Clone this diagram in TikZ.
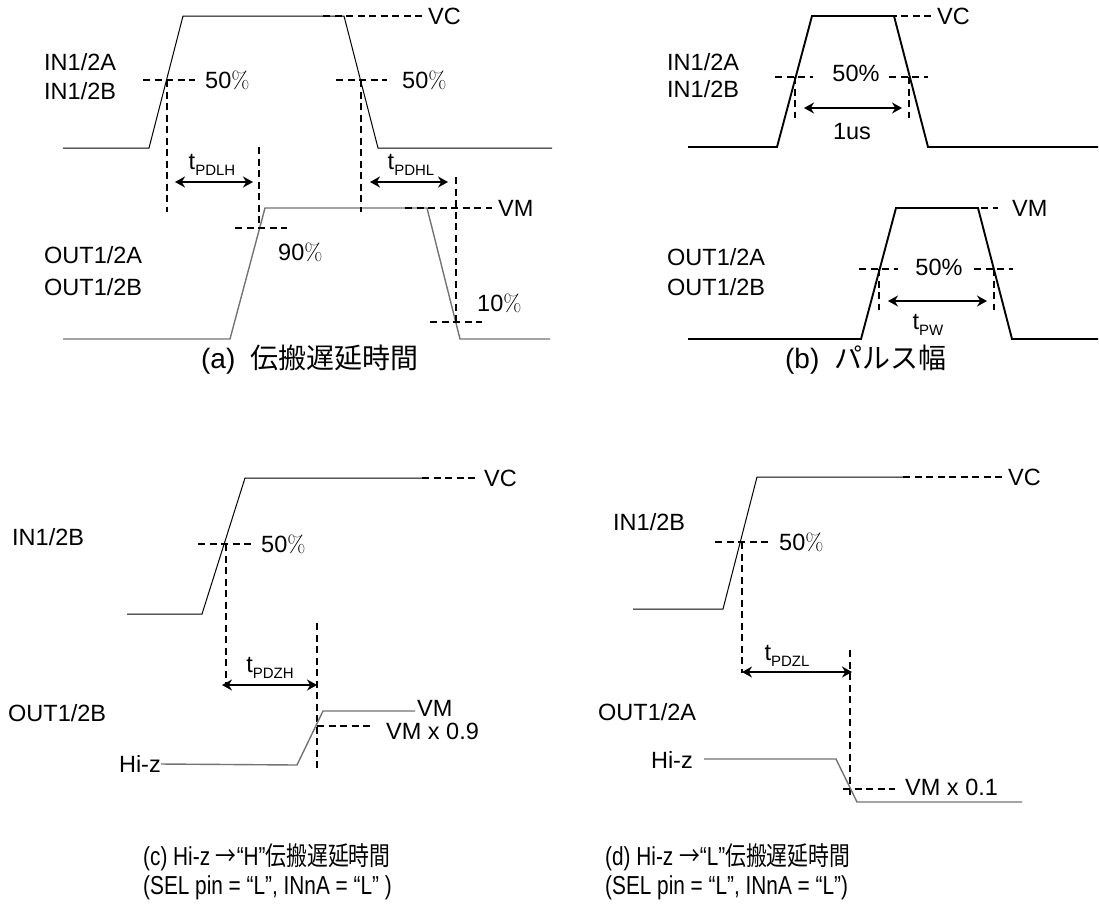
\documentclass[tikz,border=0pt]{standalone}
\usepackage{fontspec}
\setmainfont{Liberation Sans}
\newfontfamily\jp{Noto Sans CJK JP}
\newfontfamily\jpc[FakeStretch=0.8]{Noto Sans CJK JP}
\newfontfamily\capf[FakeStretch=0.8]{Liberation Sans}
\newfontfamily\lmr{Latin Modern Roman}
\usetikzlibrary{arrows.meta}
\newcommand{\pct}{{\lmr\%}}
\newcommand{\tsub}[1]{t\raisebox{-0.28em}{\fontsize{15}{15}\selectfont #1}}
\tikzset{
  lbl/.style={font=\fontsize{23.5}{23.5}\selectfont, inner sep=0pt},
  capt/.style={font=\fontsize{28}{28}\selectfont, inner sep=0pt},
  capt2/.style={font=\capf\fontsize{26}{29.5}\selectfont, inner sep=0pt, align=left},
  inwave/.style={line width=1pt, draw=black},
  outwave/.style={line width=1.4pt, draw=black!55},
  boldwave/.style={line width=1.9pt, draw=black},
  dsh/.style={dash pattern=on 7pt off 4.5pt, line width=2.2pt},
  dshthin/.style={dash pattern=on 7pt off 4.5pt, line width=1.6pt},
  dim/.style={{Stealth[length=10pt,width=11pt]}-{Stealth[length=10pt,width=11pt]}, line width=2.6pt}
}
\begin{document}
\begin{tikzpicture}[x=1pt,y=-1pt]
\useasboundingbox (0,0) rectangle (1099,914);

% ================= (a) =================
\draw[inwave] (63,148) -- (149,148) -- (183,16) -- (344,16) -- (378,148) -- (552,148);
\draw[outwave] (63,339) -- (230,339) -- (265,208) -- (427,208) -- (460,339) -- (550,339);
\node[lbl, anchor=west] (aIN1) at (44,62) {IN1/2A};
\node[lbl, anchor=west] (aIN2) at (44,91) {IN1/2B};
\node[lbl, anchor=west] (aOUT1) at (44,255) {OUT1/2A};
\node[lbl, anchor=west] (aOUT2) at (44,287) {OUT1/2B};
\node[lbl, anchor=west] (aVC) at (428,16) {VC};
\draw[dsh] (323,16) -- (423,16);
\node[lbl, anchor=west] (a50l) at (205,80) {50\pct};
\draw[dsh] (143,80) -- (195,80);
\node[lbl, anchor=west] (a50r) at (402,80) {50\pct};
\draw[dsh] (336,80) -- (387,80);
\draw[dsh] (167,80) -- (167,212);
\draw[dsh] (259,147) -- (259,228);
\draw[dsh] (361,80) -- (361,212);
\draw[dsh] (456,177) -- (456,323);
\coordinate (a1l) at (175,182); \coordinate (a1r) at (253,182);
\coordinate (a2l) at (370,182); \coordinate (a2r) at (448,182);
\draw[dim] (a1l) -- (a1r);
\draw[dim] (a2l) -- (a2r);
\node[lbl] (atpdlh) at (212,165) {\tsub{PDLH}};
\node[lbl] (atpdhl) at (411,165) {\tsub{PDHL}};
\node[lbl, anchor=west] (aVM) at (498,208) {VM};
\draw[dsh] (405,208) -- (492,208);
\draw[dsh] (235,228) -- (287,228);
\node[lbl, anchor=west] (a90) at (278,252) {90\pct};
\draw[dsh] (430,322) -- (482,322);
\node[lbl, anchor=west] (a10) at (477,303) {10\pct};
\node[capt] (capa) at (310,360) {(a)\ \ {\jp 伝搬遅延時間}};

% ================= (b) =================
\draw[boldwave] (688,147) -- (777,147) -- (812,16) -- (894,16) -- (928,147) -- (1098,147);
\draw[boldwave] (688,339) -- (861,339) -- (896,208) -- (978,208) -- (1012,339) -- (1098,339);
\node[lbl, anchor=west] (bIN1) at (667,62) {IN1/2A};
\node[lbl, anchor=west] (bIN2) at (667,89) {IN1/2B};
\node[lbl, anchor=west] (bOUT1) at (667,257) {OUT1/2A};
\node[lbl, anchor=west] (bOUT2) at (667,287) {OUT1/2B};
\node[lbl, anchor=west] (bVC) at (937,16) {VC};
\draw[dshthin] (878,16) -- (932,16);
\draw[dshthin] (775,77) -- (813,77);
\draw[dshthin] (889,77) -- (928,77);
\node[lbl] (b50a) at (856,73) {50\%};
\draw[dshthin] (795,77) -- (795,118);
\draw[dshthin] (909,77) -- (909,118);
\draw[dim] (804,108) -- (902,108);
\node[lbl] (b1us) at (852,132) {1us};
\node[lbl, anchor=west] (bVM) at (1012,208) {VM};
\draw[dshthin] (958,208) -- (998,208);
\draw[dshthin] (859,269) -- (898,269);
\draw[dshthin] (974,269) -- (1013,269);
\node[lbl] (b50b) at (939,267) {50\%};
\draw[dshthin] (879,269) -- (879,310);
\draw[dshthin] (994,269) -- (994,310);
\draw[dim] (888,301) -- (987,301);
\node[lbl] (btpw) at (928,325) {\tsub{PW}};
\node[capt] (capb) at (866,360) {(b)\ \ {\jp パルス幅}};

% ================= (c) =================
\draw[inwave] (127,614) -- (202,614) -- (245,478) -- (425,478);
\node[lbl, anchor=west] (cVC) at (484,478) {VC};
\draw[dsh] (422,478) -- (475,478);
\node[lbl, anchor=west] (cIN) at (12,537) {IN1/2B};
\node[lbl, anchor=west] (cOUT) at (8,713) {OUT1/2B};
\draw[dsh] (198,544) -- (252,544);
\node[lbl, anchor=west] (c50) at (261,544) {50\pct};
\draw[dsh] (226,544) -- (226,685);
\draw[dsh] (317,623) -- (317,768);
\draw[dim] (222,685) -- (317,685);
\node[lbl] (ctpdzh) at (270,668) {\tsub{PDZH}};
\node[lbl, anchor=east] (cHiz) at (161,764) {Hi-z};
\draw[outwave] (cHiz.east) -- (297,765) -- (323,711) -- (415,711);
\node[lbl, anchor=west] (cVM) at (417,708) {VM};
\draw[dsh] (317,726) -- (373,726);
\node[lbl, anchor=west] (cVM9) at (386,731) {VM x 0.9};
\node[capt2, anchor=north west] (capc) at (143,843) {(c) Hi-z {\jpc →}“H”{\jpc 伝搬遅延時間}\\(SEL pin = “L”, INnA = “L” )};

% ================= (d) =================
\draw[inwave] (633,609) -- (723,609) -- (757,477) -- (905,477);
\node[lbl, anchor=west] (dVC) at (1008,477) {VC};
\draw[dsh] (903,477) -- (1003,477);
\node[lbl, anchor=west] (dIN) at (613,522) {IN1/2B};
\node[lbl, anchor=west] (dOUT) at (598,712) {OUT1/2A};
\draw[dsh] (715,542) -- (768,542);
\node[lbl, anchor=west] (d50) at (779,542) {50\pct};
\draw[dsh] (742,542) -- (742,673);
\draw[dsh] (850,650) -- (850,798);
\draw[dim] (742,672) -- (852,672);
\node[lbl] (dtpdzl) at (787,656) {\tsub{PDZL}};
\node[lbl, anchor=east] (dHiz) at (693,760) {Hi-z};
\draw[outwave] (dHiz.east) ++(11,-1) -- (836,759) -- (857,802) -- (1022,802);
\draw[dsh] (843,789) -- (895,789);
\node[lbl, anchor=west] (dVM1) at (905,787) {VM x 0.1};
\node[capt2, anchor=north west] (capd) at (605,843) {(d) Hi-z {\jpc →}“L”{\jpc 伝搬遅延時間}\\(SEL pin = “L”, INnA = “L”)};
\end{tikzpicture}
\end{document}
